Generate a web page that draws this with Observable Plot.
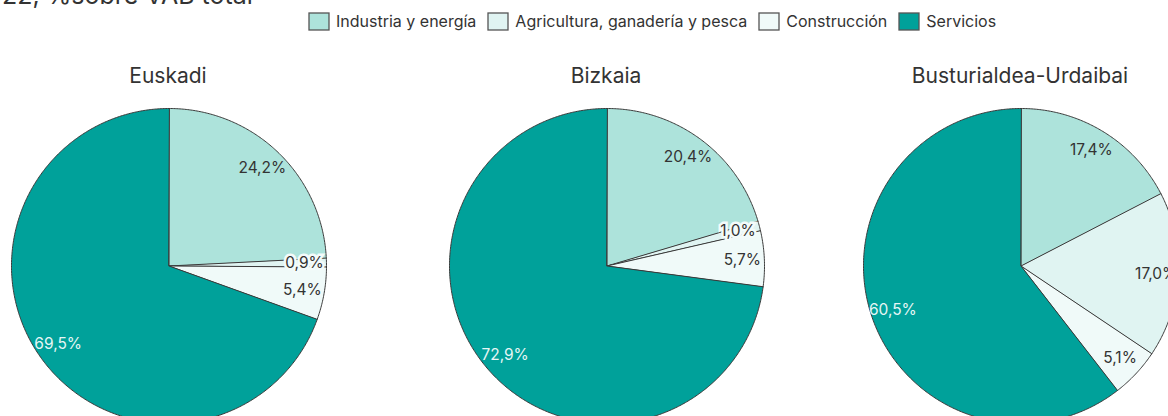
<!DOCTYPE html>
<html><head><meta charset="utf-8">
<script src="https://cdn.jsdelivr.net/npm/d3@7"></script>
<script src="https://cdn.jsdelivr.net/npm/@observablehq/plot@0.6"></script>
<style>
html,body{margin:0;padding:0;width:1168px;height:416px;overflow:hidden;background:#fff;font-family:Inter,"Open Sans",sans-serif;color:#333}
#root{position:relative;width:1168px;height:416px;overflow:hidden}
.abs{position:absolute}
.title{font-size:25px;white-space:nowrap;left:-29px;top:-20px;line-height:30px;color:#333}
.ptitle{font-size:21px;width:400px;text-align:center;top:64px;line-height:24px;color:#333}
#legend{left:309px;top:11px}
.pie svg{max-width:none !important}
.lg-swatches{font-family:Inter,"Open Sans",sans-serif !important;font-size:16px !important;color:#333 !important;margin:0 !important;min-height:0 !important;white-space:nowrap}
.lg-swatches .lg-swatch{margin-right:12px !important}
.lg-swatch svg{margin-right:7px !important;overflow:visible}
.lg-swatch svg rect{stroke:#555;stroke-width:1.3}
</style>
</head><body><div id="root"></div>
<script>
const sectors = ["Industria y energía", "Agricultura, ganadería y pesca", "Construcción", "Servicios"];
const colors = ["#ade3db", "#e0f4f2", "#f0faf9", "#00a19a"];
const regions = ["Euskadi", "Bizkaia", "Busturialdea-Urdaibai"];
const euskadi = [24.2, 0.9, 5.4, 69.5];
const bizkaia = [20.4, 1.0, 5.7, 72.9];
const busturialdea = [17.4, 17.0, 5.1, 60.5];
const titleText = "2022, %sobre VAB total";

const root = document.getElementById("root");
const R = 157.5, M = 2, W = 2 * R + 2 * M;
const centers = [168, 606, 1020];
const cy = 265;
const fmt = v => v.toFixed(1).replace(".", ",") + "%";

function makePie(values) {
  const arcs = d3.pie().sort(null).value(d => d)(values);
  const pts = [];
  const labels = [];
  arcs.forEach((a, i) => {
    const s = sectors[i];
    pts.push({s, x: 0, y: 0});
    const n = Math.max(2, Math.ceil((a.endAngle - a.startAngle) / 0.01));
    for (let k = 0; k <= n; k++) {
      const t = a.startAngle + (a.endAngle - a.startAngle) * k / n;
      pts.push({s, x: Math.sin(t), y: Math.cos(t)});
    }
    const m = (a.startAngle + a.endAngle) / 2;
    labels.push({s, v: values[i], x: 0.86 * Math.sin(m), y: 0.86 * Math.cos(m), text: fmt(values[i])});
  });
  return Plot.plot({
    width: W, height: W, margin: M,
    x: {domain: [-1, 1], axis: null},
    y: {domain: [-1, 1], axis: null},
    color: {domain: sectors, range: colors},
    style: {overflow: "visible", fontFamily: "Inter, 'Open Sans', sans-serif", fontSize: "15.5px", background: "transparent"},
    marks: [
      Plot.line(pts, {x: "x", y: "y", z: "s", fill: "s", stroke: "#3a3a3a", strokeWidth: 1, curve: "linear-closed"}),
      Plot.text(labels.filter(d => d.s !== "Servicios" && d.v >= 2), {x: "x", y: "y", text: "text", fill: "#333"}),
      Plot.text(labels.filter(d => d.s !== "Servicios" && d.v < 2), {x: "x", y: "y", text: "text", fill: "#333", stroke: "#f3fbfa", strokeWidth: 5, strokeLinejoin: "miter"}),
      Plot.text(labels.filter(d => d.s === "Servicios"), {x: "x", y: "y", text: "text", fill: "#e6f6f5"})
    ]
  });
}

const title = document.createElement("div");
title.className = "abs title";
title.textContent = titleText;
root.appendChild(title);

const leg = Plot.legend({color: {domain: sectors, range: colors}, legend: "swatches", className: "lg", swatchWidth: 20, swatchHeight: 17});
const legWrap = document.createElement("div");
legWrap.className = "abs";
legWrap.id = "legend";
legWrap.style.width = "900px";
legWrap.appendChild(leg);
root.appendChild(legWrap);

[euskadi, bizkaia, busturialdea].forEach((vals, i) => {
  const cx = centers[i];
  const w = document.createElement("div");
  w.className = "abs pie";
  w.style.left = (cx - W / 2) + "px";
  w.style.top = (cy - W / 2) + "px";
  w.style.width = W + "px";
  w.style.height = W + "px";
  w.appendChild(makePie(vals));
  root.appendChild(w);
  const t = document.createElement("div");
  t.className = "abs ptitle";
  t.style.left = (cx - 200) + "px";
  t.textContent = regions[i];
  root.appendChild(t);
});
</script>
</body></html>
